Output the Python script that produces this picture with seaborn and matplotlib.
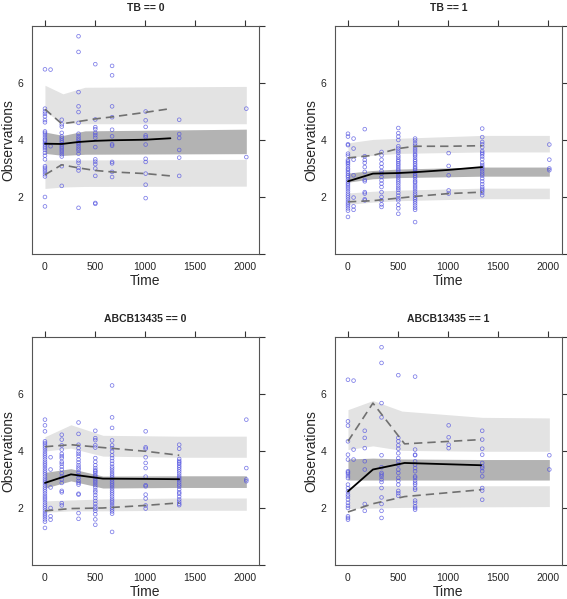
import numpy as np
import pandas as pd
import matplotlib.pyplot as plt
import seaborn as sns

# nominal sampling times (days)
times = [0, 56, 168, 336, 504, 672, 1008, 1344, 2016]

# ---- TB == 0 : observations, one list per nominal time
tb0_obs = [
    [6.48, 5.1, 5.0, 4.92, 4.83, 4.7, 4.62, 4.3, 4.25, 4.18, 4.1, 4.02, 3.97, 3.9, 3.85,
     3.78, 3.72, 3.65, 3.55, 3.45, 3.32, 3.08, 3.02, 2.95, 2.88, 2.8, 2.72, 2.0, 1.67],
    [6.47, 3.78],
    [4.71, 4.55, 4.47, 4.25, 4.12, 4.05, 3.98, 3.92, 3.85, 3.78, 3.72, 3.65, 3.58, 3.5,
     3.42, 3.08, 2.39],
    [7.64, 7.09, 5.68, 5.18, 4.98, 4.6, 4.22, 4.13, 4.05, 3.98, 3.92, 3.86, 3.78, 3.7,
     3.63, 3.52, 3.28, 3.2, 3.02, 2.93, 1.62],
    [6.66, 4.72, 4.45, 4.38, 4.25, 4.17, 4.08, 3.75, 3.32, 3.24, 3.15, 3.0, 2.74, 1.79, 1.76],
    [6.6, 6.27, 5.18, 4.8, 4.36, 4.13, 3.85, 3.8, 3.23, 3.18, 2.88, 2.7],
    [5.0, 4.69, 4.46, 4.16, 4.1, 3.84, 3.34, 3.23, 2.82, 2.43, 1.96],
    [4.71, 4.21, 4.07, 3.65, 3.38, 2.74],
    [5.1, 3.4],
]
tb0_band_t = [0, 180, 400, 2016]
tb0_hi_top = [5.92, 5.62, 5.85, 5.88]
tb0_hi_bot = [5.0, 4.58, 4.57, 4.57]
tb0_med_top = [4.28, 4.16, 4.32, 4.38]
tb0_med_bot = [3.53, 3.46, 3.5, 3.52]
tb0_lo_top = [3.3, 3.3, 3.3, 3.32]
tb0_lo_bot = [2.3, 2.35, 2.37, 2.38]
tb0_line_t = [0, 168, 336, 504, 672, 1008, 1256]
tb0_p50 = [3.87, 3.86, 3.93, 3.97, 3.99, 4.01, 4.06]
tb0_p95 = [5.08, 4.57, 4.65, 4.74, 4.81, 4.97, 5.1]
tb0_p05 = [2.78, 3.13, 3.02, 2.93, 2.88, 2.82, 2.74]

# ---- TB == 1
tb1_obs = [
    [4.22, 4.12, 3.85, 3.82, 3.52, 3.45, 3.3, 3.25, 3.2, 3.15, 3.08, 3.0, 2.95, 2.88, 2.82,
     2.75, 2.7, 2.62, 2.55, 2.48, 2.42, 2.35, 2.28, 2.2, 2.12, 2.05, 1.98, 1.9, 1.82, 1.75,
     1.68, 1.6, 1.52, 1.3],
    [4.05, 3.7, 3.31, 2.76, 1.98, 1.67, 1.55],
    [4.38, 3.43, 3.3, 3.2, 3.05, 2.88, 2.6, 2.55, 2.17, 2.12, 1.92, 1.88],
    [3.58, 3.46, 3.31, 3.17, 3.05, 2.91, 2.82, 2.7, 2.58, 2.47, 2.35, 2.17, 2.0, 1.88, 1.74, 1.65],
    [4.42, 4.24, 4.12, 4.0, 3.78, 3.7, 3.62, 3.55, 3.45, 3.38, 3.3, 3.25, 3.18, 3.12, 3.05,
     2.98, 2.92, 2.85, 2.78, 2.7, 2.62, 2.55, 2.48, 2.4, 2.32, 2.25, 2.15, 2.05, 1.95, 1.88,
     1.72, 1.6, 1.41],
    [4.05, 3.98, 3.88, 3.8, 3.72, 3.65, 3.58, 3.5, 3.45, 3.38, 3.3, 3.25, 3.18, 3.12, 3.05,
     3.0, 2.95, 2.88, 2.82, 2.75, 2.7, 2.62, 2.55, 2.5, 2.42, 2.35, 2.28, 2.2, 2.12, 2.05,
     1.98, 1.92, 1.85, 1.78, 1.7, 1.62, 1.55, 1.12],
    [3.54, 3.09, 2.76, 2.23, 2.12],
    [4.4, 4.1, 3.93, 3.85, 3.75, 3.61, 3.55, 3.5, 3.42, 3.33, 3.2, 3.12, 3.05, 2.98, 2.9,
     2.82, 2.75, 2.65, 2.55, 2.45, 2.35, 2.28, 2.22, 2.15, 2.06],
    [3.84, 3.31, 3.0, 2.94],
]
tb1_band_t = [0, 250, 504, 1344, 2016]
tb1_hi_top = [3.9, 4.02, 4.06, 4.16, 4.16]
tb1_hi_bot = [3.4, 3.46, 3.53, 3.58, 3.58]
tb1_med_top = [2.84, 2.93, 2.98, 3.05, 3.05]
tb1_med_bot = [2.52, 2.64, 2.68, 2.73, 2.73]
tb1_lo_top = [2.14, 2.2, 2.24, 2.31, 2.31]
tb1_lo_bot = [1.74, 1.82, 1.87, 1.94, 1.94]
tb1_line_t = [0, 250, 504, 672, 1008, 1344]
tb1_p50 = [2.55, 2.82, 2.84, 2.87, 2.95, 3.05]
tb1_p95 = [3.37, 3.46, 3.7, 3.78, 3.78, 3.8]
tb1_p05 = [1.83, 1.87, 1.96, 2.02, 2.12, 2.17]

# ---- ABCB13435 == 0
ab0_obs = [
    [5.1, 4.9, 4.69, 4.34, 4.28, 4.22, 4.15, 4.08, 4.0, 3.92, 3.85, 3.78, 3.7, 3.62, 3.55,
     3.48, 3.4, 3.32, 3.25, 3.18, 3.1, 3.02, 2.95, 2.88, 2.8, 2.72, 2.65, 2.58, 2.5, 2.42,
     2.35, 2.28, 2.2, 2.12, 2.05, 1.98, 1.9, 1.82, 1.75, 1.68, 1.6, 1.52, 1.3],
    [3.78, 3.35, 2.72, 2.0, 1.71, 1.59],
    [4.57, 4.4, 4.2, 4.05, 3.9, 3.82, 3.75, 3.62, 3.55, 3.45, 3.35, 3.22, 3.1, 3.0, 2.88,
     2.6, 2.55, 2.17, 2.09],
    [5.0, 4.6, 4.22, 4.1, 3.98, 3.9, 3.82, 3.7, 3.6, 3.5, 3.42, 3.35, 3.25, 3.15, 3.05,
     2.95, 2.88, 2.82, 2.5, 2.47, 1.82, 1.62],
    [4.71, 4.45, 4.38, 4.2, 4.12, 3.75, 3.62, 3.5, 3.4, 3.32, 3.28, 3.22, 3.15, 3.1, 3.02,
     2.95, 2.88, 2.8, 2.72, 2.62, 2.55, 2.45, 2.35, 2.25, 2.15, 2.05, 1.98, 1.9, 1.78, 1.6, 1.41],
    [6.3, 5.18, 4.81, 4.37, 4.2, 4.1, 3.98, 3.85, 3.75, 3.65, 3.55, 3.45, 3.38, 3.3, 3.22,
     3.15, 3.08, 3.0, 2.92, 2.85, 2.78, 2.7, 2.62, 2.55, 2.48, 2.4, 2.32, 2.25, 2.18, 2.1,
     2.02, 1.95, 1.88, 1.8, 1.16],
    [4.69, 4.13, 4.08, 3.78, 3.58, 3.4, 3.1, 2.8, 2.76, 2.47, 2.33, 2.09, 1.98],
    [4.22, 4.08, 3.72, 3.65, 3.6, 3.55, 3.48, 3.42, 3.35, 3.28, 3.2, 3.12, 3.05, 2.98, 2.9,
     2.82, 2.75, 2.65, 2.55, 2.5, 2.4, 2.3, 2.22, 2.15, 2.1],
    [5.1, 3.4, 3.0, 2.94],
]
ab0_band_t = [0, 260, 580, 1344, 2016]
ab0_hi_top = [4.5, 4.92, 4.55, 4.52, 4.52]
ab0_hi_bot = [4.0, 4.1, 3.82, 3.78, 3.78]
ab0_med_top = [3.25, 3.38, 3.12, 3.13, 3.13]
ab0_med_bot = [2.7, 2.95, 2.7, 2.72, 2.72]
ab0_lo_top = [2.25, 2.28, 2.32, 2.35, 2.35]
ab0_lo_bot = [1.85, 1.9, 1.9, 1.92, 1.92]
ab0_line_t = [0, 260, 580, 1008, 1344]
ab0_p50 = [2.88, 3.18, 3.03, 3.02, 3.01]
ab0_p95 = [4.15, 4.22, 4.12, 3.99, 3.85]
ab0_p05 = [1.9, 1.98, 2.0, 2.09, 2.18]

# ---- ABCB13435 == 1
ab1_obs = [
    [6.5, 5.04, 4.89, 4.34, 3.87, 3.7, 3.29, 3.25, 3.2, 3.12, 3.05, 2.82, 2.7, 2.58, 2.47,
     2.4, 2.3, 2.18, 2.08, 2.0, 1.71, 1.65, 1.59],
    [6.47, 4.05, 3.7],
    [4.71, 4.46, 4.1, 3.64, 3.35, 2.14, 1.9],
    [7.64, 7.09, 5.68, 5.18, 3.85, 3.43, 3.23, 3.17, 3.1, 3.0, 2.91, 2.7, 2.37, 2.14, 1.9, 1.65],
    [6.66, 4.46, 4.34, 4.2, 4.08, 3.92, 3.75, 3.64, 3.52, 3.35, 3.23, 3.06, 2.95, 2.82, 2.6,
     2.52, 2.43],
    [6.61, 4.05, 3.87, 3.85, 3.64, 3.52, 3.4, 3.29, 3.11, 3.06, 2.96, 2.88, 2.82, 2.7, 2.64,
     2.26, 2.18, 2.06, 2.0, 1.94],
    [4.9, 4.48, 4.22, 4.1],
    [4.71, 4.4, 4.08, 3.87, 3.58, 3.46, 3.4, 3.29, 3.11, 2.7, 2.61, 2.29],
    [3.85, 3.35],
]
ab1_band_t = [0, 250, 540, 1344, 2016]
ab1_hi_top = [5.45, 5.77, 5.4, 5.18, 5.16]
ab1_hi_bot = [4.05, 4.18, 4.02, 3.99, 3.99]
ab1_med_top = [3.72, 3.75, 3.72, 3.7, 3.7]
ab1_med_bot = [2.98, 2.98, 2.98, 2.98, 2.98]
ab1_lo_top = [2.76, 2.78, 2.78, 2.78, 2.78]
ab1_lo_bot = [1.98, 2.0, 2.02, 2.04, 2.05]
ab1_line_t = [0, 250, 567, 1333]
ab1_p50 = [2.58, 3.35, 3.58, 3.5]
ab1_p95 = [4.34, 5.68, 4.25, 4.4]
ab1_p05 = [1.86, 2.15, 2.4, 2.64]

sns.set_style("white")
plt.rcParams['font.family'] = ['Liberation Sans', 'DejaVu Sans']

fig = plt.figure(figsize=(5.67, 5.99), dpi=100)

panels = [
    ("TB == 0", [0.0564, 0.5760], tb0_obs, tb0_band_t,
     (tb0_hi_bot, tb0_hi_top, tb0_med_bot, tb0_med_top, tb0_lo_bot, tb0_lo_top),
     tb0_line_t, tb0_p50, tb0_p95, tb0_p05),
    ("TB == 1", [0.5908, 0.5760], tb1_obs, tb1_band_t,
     (tb1_hi_bot, tb1_hi_top, tb1_med_bot, tb1_med_top, tb1_lo_bot, tb1_lo_top),
     tb1_line_t, tb1_p50, tb1_p95, tb1_p05),
    ("ABCB13435 == 0", [0.0564, 0.0568], ab0_obs, ab0_band_t,
     (ab0_hi_bot, ab0_hi_top, ab0_med_bot, ab0_med_top, ab0_lo_bot, ab0_lo_top),
     ab0_line_t, ab0_p50, ab0_p95, ab0_p05),
    ("ABCB13435 == 1", [0.5908, 0.0568], ab1_obs, ab1_band_t,
     (ab1_hi_bot, ab1_hi_top, ab1_med_bot, ab1_med_top, ab1_lo_bot, ab1_lo_top),
     ab1_line_t, ab1_p50, ab1_p95, ab1_p05),
]

light = '#e3e3e3'
dark = '#b3b3b3'

for title, pos, obs, band_t, bands, line_t, p50, p95, p05 in panels:
    ax = fig.add_axes([pos[0], pos[1], 0.4004, 0.3806])
    hb, ht, mb, mt, lb, lt = bands
    # prediction interval bands
    ax.fill_between(band_t, hb, ht, color=light, lw=0, zorder=1)
    ax.fill_between(band_t, mb, mt, color=dark, lw=0, zorder=1)
    ax.fill_between(band_t, lb, lt, color=light, lw=0, zorder=1)

    df = pd.DataFrame({'Time': np.repeat(times, [len(c) for c in obs]),
                       'Obs': np.concatenate(obs)})
    sns.scatterplot(data=df, x='Time', y='Obs', ax=ax, marker='o', s=7,
                    facecolors='none', edgecolor='#5050e0', linewidth=0.55,
                    alpha=0.75, zorder=3)

    sns.lineplot(x=line_t, y=p50, ax=ax, color='black', lw=1.3, zorder=4)
    sns.lineplot(x=line_t, y=p95, ax=ax, color='#707070', lw=1.2,
                 linestyle=(0, (5, 3)), zorder=4)
    sns.lineplot(x=line_t, y=p05, ax=ax, color='#707070', lw=1.2,
                 linestyle=(0, (5, 3)), zorder=4)

    ax.set_xlim(-130, 2143)
    ax.set_ylim(0, 8)
    ax.set_xticks([0, 500, 1000, 1500, 2000])
    ax.set_yticks([0, 2, 4, 6, 8])
    ax.set_yticklabels(['', '2', '4', '6', ''])
    ax.tick_params(direction='out', length=4, width=0.8, color='#333333',
                   labelsize=7.5, pad=2, top=True, right=True,
                   labeltop=False, labelright=False)
    for sp in ax.spines.values():
        sp.set_color('#555555')
        sp.set_linewidth(0.8)
    ax.set_xlabel('Time', fontsize=10, labelpad=1)
    ax.set_ylabel('Observations', fontsize=10, labelpad=2)
    ax.set_title(title, fontsize=7.5, fontweight='bold', pad=11)

fig.savefig('out.png', dpi=100)
